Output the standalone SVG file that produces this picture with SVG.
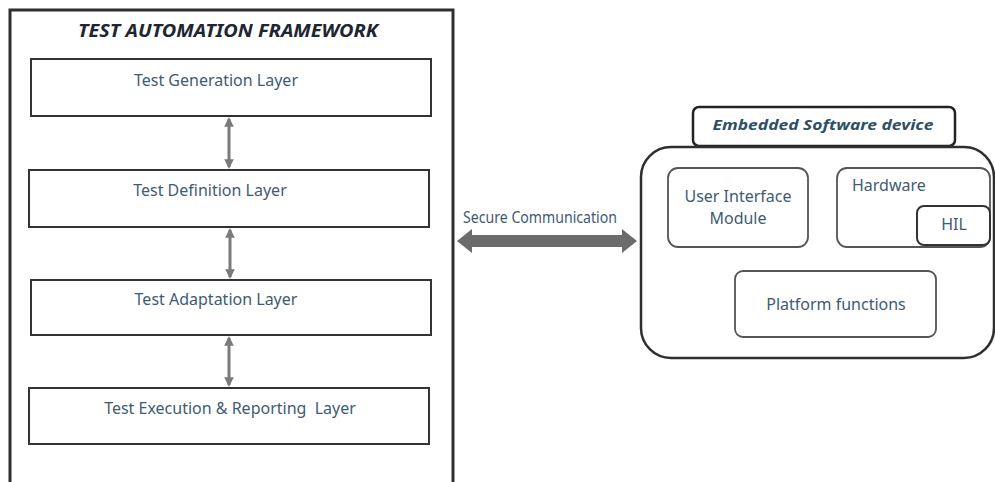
<svg xmlns="http://www.w3.org/2000/svg" width="995" height="482" viewBox="0 0 995 482">
<defs>
<style>
.frame{fill:#fff;stroke:#2f2f2f;stroke-width:3}
.layer{fill:#fff;stroke:#333;stroke-width:2}
.mod{fill:#fff;stroke:#555;stroke-width:1.8}
.lbl{font-family:"Noto Sans","Liberation Sans",sans-serif;font-size:16px;fill:#3f5b72}
.ttl{font-family:"Noto Sans","Liberation Sans",sans-serif;font-weight:bold;font-style:italic}
.va{stroke:#7a7a7a;stroke-width:3;fill:none;marker-start:url(#ah);marker-end:url(#ah)}
</style>
<marker id="ah" viewBox="0 0 10 10" refX="8" refY="5" markerWidth="3.2" markerHeight="3.2" orient="auto-start-reverse" markerUnits="strokeWidth">
<path d="M0,0 L10,5 L0,10 z" fill="#7a7a7a"/>
</marker>
</defs>
<rect width="995" height="482" fill="#fff"/>

<g id="framework">
<rect class="frame" x="10" y="10" width="443" height="490"/>
<text class="ttl" x="228" y="37" text-anchor="middle" font-size="17" fill="#1e2533" textLength="300" lengthAdjust="spacingAndGlyphs">TEST AUTOMATION FRAMEWORK</text>
</g>

<g id="test-generation">
<rect class="layer" x="31" y="59" width="400" height="57"/>
<text class="lbl" x="216" y="86" text-anchor="middle">Test Generation Layer</text>
</g>
<g id="test-definition">
<rect class="layer" x="29" y="170" width="400" height="57"/>
<text class="lbl" x="210" y="196" text-anchor="middle">Test Definition Layer</text>
</g>
<g id="test-adaptation">
<rect class="layer" x="31" y="280" width="400" height="55"/>
<text class="lbl" x="216" y="305" text-anchor="middle">Test Adaptation Layer</text>
</g>
<g id="test-execution">
<rect class="layer" x="29" y="388" width="400" height="56"/>
<text class="lbl" x="230" y="414" text-anchor="middle" xml:space="preserve">Test Execution &amp; Reporting  Layer</text>
</g>

<g id="device-header">
<rect x="693" y="107" width="262" height="39" rx="6" fill="#fff" stroke="#222" stroke-width="2.5"/>
<text class="ttl" x="823" y="130" text-anchor="middle" font-size="15" fill="#2e4f66" textLength="221" lengthAdjust="spacingAndGlyphs">Embedded Software device</text>
</g>

<g id="device">
<rect x="641" y="147" width="353" height="211" rx="30" fill="none" stroke="#2f2f2f" stroke-width="2.5"/>
</g>
<g id="ui-module">
<rect class="mod" x="668" y="168" width="140" height="79" rx="10"/>
<text class="lbl" x="738" y="202" text-anchor="middle">User Interface</text>
<text class="lbl" x="738" y="224" text-anchor="middle">Module</text>
</g>
<g id="hardware">
<rect class="mod" x="837" y="168" width="153" height="79" rx="10"/>
<text class="lbl" x="852" y="191">Hardware</text>
</g>
<g id="hil">
<rect x="917" y="206" width="73" height="39" rx="7" fill="#fff" stroke="#333" stroke-width="2"/>
<text class="lbl" x="954" y="230" text-anchor="middle" font-size="13">HIL</text>
</g>
<g id="platform">
<rect class="mod" x="735" y="271" width="201" height="66" rx="8"/>
<text class="lbl" x="836" y="310" text-anchor="middle">Platform functions</text>
</g>

<g id="connectors">
<line class="va" x1="229" y1="119" x2="229" y2="167"/>
<line class="va" x1="230" y1="230" x2="230" y2="277"/>
<line class="va" x1="229" y1="338" x2="229" y2="385"/>
<path d="M457,241 L472,229 L472,235 L622,235 L622,229 L637,241 L622,253 L622,247 L472,247 L472,253 z" fill="#6b6b6b"/>
<text class="lbl" x="540" y="223" text-anchor="middle" font-size="11.5" textLength="154" lengthAdjust="spacingAndGlyphs">Secure Communication</text>
</g>
</svg>
